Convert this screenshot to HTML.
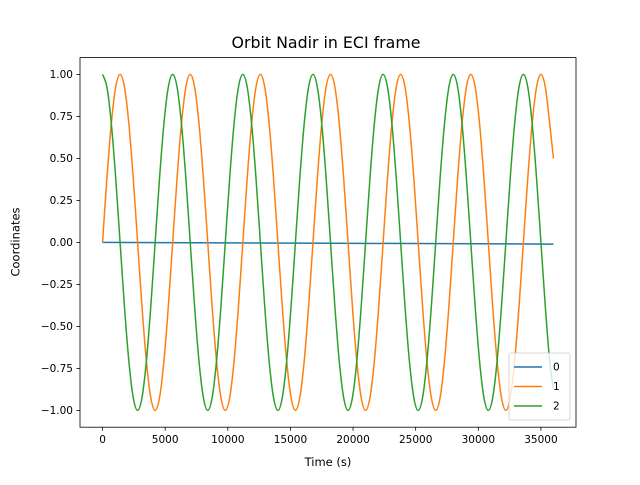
<!DOCTYPE html>
<html><head><meta charset="utf-8"><style>
body{margin:0;background:#fff}
svg text{font-family:"DejaVu Sans","Liberation Sans",sans-serif;fill:#000}
</style></head><body>
<svg id="chart" width="640" height="480" xmlns="http://www.w3.org/2000/svg">
<rect width="640" height="480" fill="#fff"/>
<text x="326" y="48" font-size="15.8" text-anchor="middle">Orbit Nadir in ECI frame</text>
<g id="plot"></g>
<rect x="80" y="57.6" width="496" height="369.6" fill="none" stroke="#000" stroke-width="0.8"/>
<g id="ticks"></g>
<text x="328" y="466" font-size="11.5" text-anchor="middle">Time (s)</text>
<text transform="translate(19.5,242) rotate(-90)" font-size="11.5" text-anchor="middle">Coordinates</text>
<g id="legend"></g>
</svg>
<script>
const seriesNames=["0","1","2"];
const seriesColors=["#1f77b4","#ff7f0e","#2ca02c"];
const xTicks=[0,5000,10000,15000,20000,25000,30000,35000];
const yTicks=[-1,-0.75,-0.5,-0.25,0,0.25,0.5,0.75,1];
const blueTimes=[0,36000];
const blueValues=[0,-0.01];
const orangeValues=[0,.383,.707,.924,1,.924,.707,.383,0,-.383,-.707,-.924,-1,-.924,-.707,-.383,
0,.383,.707,.924,1,.924,.707,.383,0,-.383,-.707,-.924,-1,-.924,-.707,-.383,
0,.383,.707,.924,1,.924,.707,.383,0,-.383,-.707,-.924,-1,-.924,-.707,-.383,
0,.383,.707,.924,1,.924,.707,.383,0,-.383,-.707,-.924,-1,-.924,-.707,-.383,
0,.383,.707,.924,1,.924,.707,.383,0,-.383,-.707,-.924,-1,-.924,-.707,-.383,
0,.383,.707,.924,1,.924,.707,.383,0,-.383,-.707,-.924,-1,-.924,-.707,-.383,
0,.383,.707,.924,1,.924,.707,0.5];
const greenValues=[1,.924,.707,.383,0,-.383,-.707,-.924,-1,-.924,-.707,-.383,0,.383,.707,.924,
1,.924,.707,.383,0,-.383,-.707,-.924,-1,-.924,-.707,-.383,0,.383,.707,.924,
1,.924,.707,.383,0,-.383,-.707,-.924,-1,-.924,-.707,-.383,0,.383,.707,.924,
1,.924,.707,.383,0,-.383,-.707,-.924,-1,-.924,-.707,-.383,0,.383,.707,.924,
1,.924,.707,.383,0,-.383,-.707,-.924,-1,-.924,-.707,-.383,0,.383,.707,.924,
1,.924,.707,.383,0,-.383,-.707,-.924,-1,-.924,-.707,-.383,0,.383,.707,.924,
1,.924,.707,.383,0,-.383,-.707,-0.87];
const sampleTimes=orangeValues.map((v,i)=>i===orangeValues.length-1?36000:i*350);

const NS="http://www.w3.org/2000/svg";
const L=80,R=576,T=57.6,B=427.2;
const xmin=-1800,xmax=37800,ymin=-1.1,ymax=1.1;
const sx=v=>L+(v-xmin)/(xmax-xmin)*(R-L);
const sy=v=>B-(v-ymin)/(ymax-ymin)*(B-T);
function mk(tag,attrs,parent){const e=document.createElementNS(NS,tag);for(const k in attrs)e.setAttribute(k,attrs[k]);parent.appendChild(e);return e;}
function smoothPath(P){
  let d='M'+P[0][0].toFixed(2)+','+P[0][1].toFixed(2);
  for(let i=0;i<P.length-1;i++){
    const p0=P[Math.max(0,i-1)],p1=P[i],p2=P[i+1],p3=P[Math.min(P.length-1,i+2)];
    const c1x=p1[0]+(p2[0]-p0[0])/6,c1y=p1[1]+(p2[1]-p0[1])/6;
    const c2x=p2[0]-(p3[0]-p1[0])/6,c2y=p2[1]-(p3[1]-p1[1])/6;
    d+=' C'+c1x.toFixed(2)+','+c1y.toFixed(2)+' '+c2x.toFixed(2)+','+c2y.toFixed(2)+' '+p2[0].toFixed(2)+','+p2[1].toFixed(2);
  }
  return d;
}
const plot=document.getElementById('plot'),ticks=document.getElementById('ticks'),leg=document.getElementById('legend');
const data=[[blueTimes,blueValues],[sampleTimes,orangeValues],[sampleTimes,greenValues]];
data.forEach((d,s)=>{
  const P=d[0].map((t,i)=>[sx(t),sy(d[1][i])]);
  const p=mk('path',{d:smoothPath(P),fill:'none',stroke:seriesColors[s],'stroke-width':1.5,'stroke-linejoin':'round'},plot);
  
  
});
xTicks.forEach(v=>{
  const x=sx(v);
  const l=mk('line',{x1:x,x2:x,y1:B,y2:B+3.5,stroke:'#000','stroke-width':0.8},ticks);
  
  
  const t=mk('text',{x:x,y:B+16,'font-size':10.5,'text-anchor':'middle'},ticks);t.textContent=v;
  
  
});
yTicks.forEach(v=>{
  const y=sy(v);
  const l=mk('line',{x1:L-3.5,x2:L,y1:y,y2:y,stroke:'#000','stroke-width':0.8},ticks);
  
  
  const t=mk('text',{x:L-7,y:y+3.7,'font-size':10.5,'text-anchor':'end'},ticks);t.textContent=(v<0?'\u2212':'')+Math.abs(v).toFixed(2);
  
  
});
const box=mk('rect',{x:509,y:353,width:61,height:67,rx:2,fill:'#fff','fill-opacity':0.8,stroke:'#ccc','stroke-width':0.8},leg);


seriesNames.forEach((n,i)=>{
  const y=367+i*19.5;
  const l=mk('line',{x1:514,x2:542,y1:y,y2:y,stroke:seriesColors[i],'stroke-width':1.5},leg);
  
  
  const t=mk('text',{x:553,y:y+3.7,'font-size':10.5},leg);t.textContent=n;
  
  
});
</script>
</body></html>
